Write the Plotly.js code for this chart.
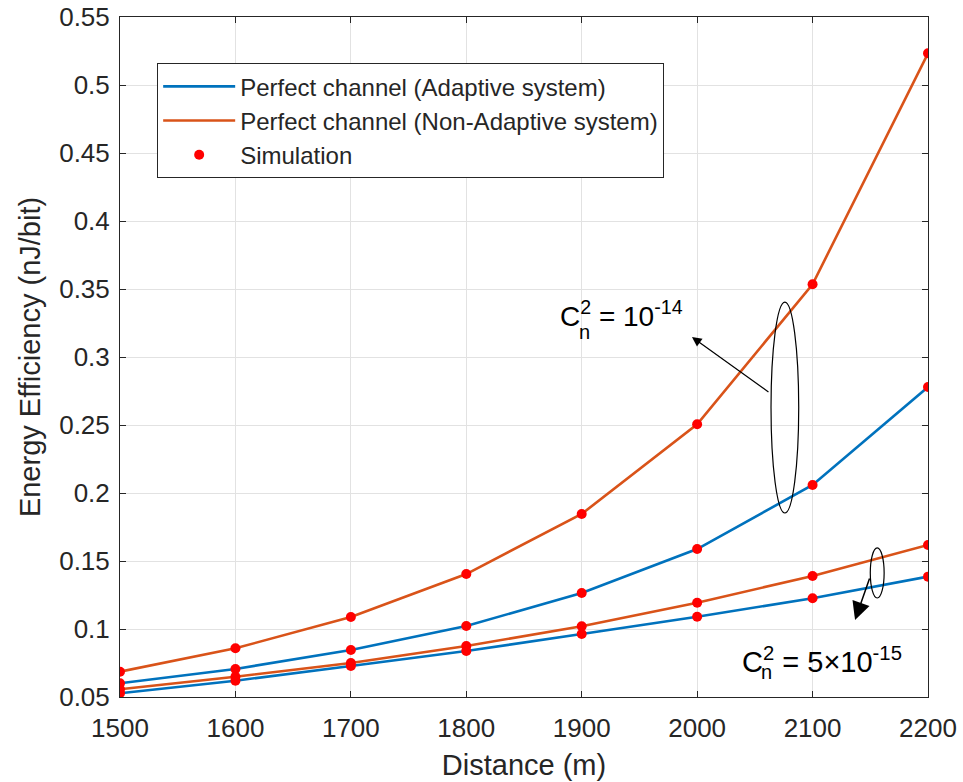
<!DOCTYPE html>
<html>
<head>
<meta charset="utf-8">
<script src="https://cdn.plot.ly/plotly-3.0.1.min.js"></script>
<style>html,body{margin:0;padding:0;background:#fff;}#chart{width:963px;height:782px;}</style>
</head>
<body>
<div id="chart"></div>
<script>
// Distance (m)
const distance = [1500, 1600, 1700, 1800, 1900, 2000, 2100, 2200];
// Energy efficiency (nJ/bit), Cn^2 = 1e-14
const adaptiveHigh    = [0.0601, 0.0706, 0.0846, 0.1022, 0.1265, 0.1588, 0.2059, 0.2780];
const nonAdaptiveHigh = [0.0686, 0.0858, 0.1088, 0.1404, 0.1846, 0.2505, 0.3535, 0.5233];
// Energy efficiency (nJ/bit), Cn^2 = 5e-15
const adaptiveLow     = [0.0527, 0.0620, 0.0728, 0.0838, 0.0963, 0.1090, 0.1226, 0.1385];
const nonAdaptiveLow  = [0.0557, 0.0649, 0.0750, 0.0875, 0.1020, 0.1193, 0.1390, 0.1618];

const yTickVals = [0.05, 0.1, 0.15, 0.2, 0.25, 0.3, 0.35, 0.4, 0.45, 0.5, 0.55];
const yTickText = ['0.05','0.1','0.15','0.2','0.25','0.3','0.35','0.4','0.45','0.5','0.55'];
const xTickVals = [1500, 1600, 1700, 1800, 1900, 2000, 2100, 2200];

const BLUE = '#0072BD', ORANGE = '#D95319', RED = '#FF0000', INK = '#262626';
const FONT = '"Liberation Sans", Arial, Helvetica, sans-serif';

const simX = [].concat(distance, distance, distance, distance);
const simY = [].concat(adaptiveHigh, nonAdaptiveHigh, adaptiveLow, nonAdaptiveLow);

const traces = [
  {x: distance, y: adaptiveHigh, mode: 'lines', name: 'Perfect channel (Adaptive system)',
   line: {color: BLUE, width: 2.6}, showlegend: true},
  {x: distance, y: nonAdaptiveHigh, mode: 'lines', name: 'Perfect channel (Non-Adaptive system)',
   line: {color: ORANGE, width: 2.6}, showlegend: true},
  {x: distance, y: adaptiveLow, mode: 'lines', name: 'adaptiveLow',
   line: {color: BLUE, width: 2.6}, showlegend: false},
  {x: distance, y: nonAdaptiveLow, mode: 'lines', name: 'nonAdaptiveLow',
   line: {color: ORANGE, width: 2.6}, showlegend: false},
  {x: simX, y: simY, mode: 'markers', name: 'Simulation',
   marker: {color: RED, size: 10}, showlegend: true}
];

const layout = {
  width: 963, height: 782,
  margin: {l: 120, r: 35, t: 17, b: 85},
  paper_bgcolor: '#fff', plot_bgcolor: '#fff',
  font: {family: FONT, color: INK, size: 24},
  showlegend: true,
  legend: {
    x: 0.046, y: 0.932, xanchor: 'left', yanchor: 'top',
    bgcolor: '#fff', bordercolor: INK, borderwidth: 1,
    font: {family: FONT, size: 24, color: INK},
    itemwidth: 72,
    tracegroupgap: 0
  },
  xaxis: {
    range: [1500, 2200], tickvals: xTickVals,
    showgrid: true, gridcolor: '#e2e2e2', gridwidth: 1,
    showline: true, linecolor: INK, linewidth: 1, mirror: 'ticks',
    ticks: 'inside', ticklen: 6, tickcolor: INK,
    ticklabelstandoff: 8,
    tickfont: {family: FONT, size: 26, color: INK},
    zeroline: false, automargin: false,
    title: {text: 'Distance (m)', font: {family: FONT, size: 29, color: INK}, standoff: 12}
  },
  yaxis: {
    range: [0.05, 0.55], tickvals: yTickVals, ticktext: yTickText,
    showgrid: true, gridcolor: '#e2e2e2', gridwidth: 1,
    showline: true, linecolor: INK, linewidth: 1, mirror: 'ticks',
    ticks: 'inside', ticklen: 6, tickcolor: INK,
    ticklabelstandoff: 4,
    tickfont: {family: FONT, size: 26, color: INK},
    zeroline: false, automargin: false,
    title: {text: 'Energy Efficiency (nJ/bit)', font: {family: FONT, size: 29, color: INK}, standoff: 10}
  },
  shapes: [
    {type: 'circle', xref: 'x', yref: 'y', x0: 2064, x1: 2088, y0: 0.1853, y1: 0.3404,
     line: {color: '#000', width: 1.2}},
    {type: 'circle', xref: 'x', yref: 'y', x0: 2150, x1: 2162, y0: 0.1228, y1: 0.1596,
     line: {color: '#000', width: 1.2}}
  ],
  annotations: [
    {x: 1995.5, y: 0.3147, xref: 'x', yref: 'y', ax: 78, ay: 56, text: '',
     showarrow: true, arrowhead: 2, arrowsize: 1.6, arrowwidth: 1.2, arrowcolor: '#000'},
    {x: 2136.8, y: 0.1066, xref: 'x', yref: 'y', ax: 15, ay: -43, text: '',
     showarrow: true, arrowhead: 2, arrowsize: 2.4, arrowwidth: 1.5, arrowcolor: '#000'},
    {x: 1879.5, y: 0.3316, xref: 'x', yref: 'y', xanchor: 'left', yanchor: 'middle',
     text: 'C<sup>2</sup> = 10<sup>-14</sup>', showarrow: false,
     font: {family: FONT, size: 28, color: '#000'}},
    {x: 1896, y: 0.3184, xref: 'x', yref: 'y', xanchor: 'left', yanchor: 'middle',
     text: 'n', showarrow: false, font: {family: FONT, size: 20, color: '#000'}},
    {x: 2037, y: 0.0772, xref: 'x', yref: 'y', xanchor: 'left', yanchor: 'middle',
     text: 'C<sup>2</sup> = 5\u00d710<sup>-15</sup>', showarrow: false,
     font: {family: FONT, size: 29, color: '#000'}},
    {x: 2054, y: 0.0684, xref: 'x', yref: 'y', xanchor: 'left', yanchor: 'middle',
     text: 'n', showarrow: false, font: {family: FONT, size: 20, color: '#000'}}
  ]
};

Plotly.newPlot('chart', traces, layout, {displayModeBar: false, responsive: false});
</script>
</body>
</html>
